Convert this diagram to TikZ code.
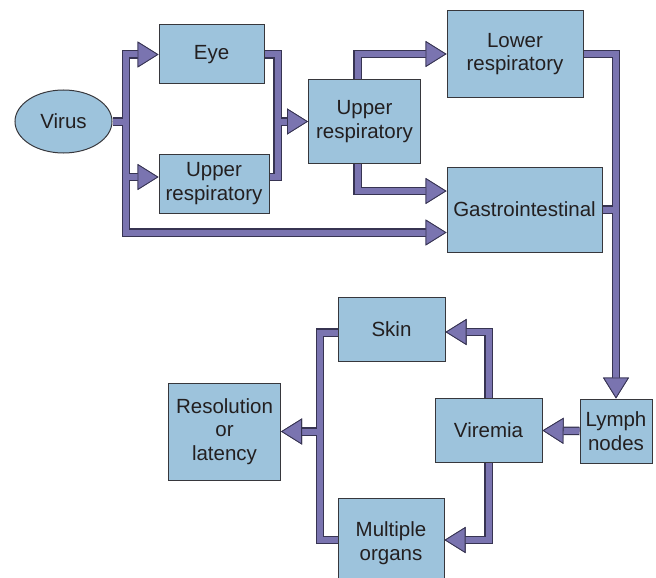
\documentclass[tikz,border=0pt]{standalone}
\usepackage{fontspec}
\setsansfont{Liberation Sans}
\usetikzlibrary{
    positioning,
    shapes.geometric,
    arrows.meta,
    backgrounds
}
\definecolor{boxfill}{RGB}{157, 195, 220}
\definecolor{boxedge}{RGB}{55, 55, 60}
\definecolor{pipefill}{RGB}{122, 116, 176}
\definecolor{pipeedge}{RGB}{55, 52, 82}
\definecolor{labeltext}{RGB}{35, 31, 32}

% a pipe: dark outline on the background layer, purple core on top
\newcommand{\pipe}[2][]{%
    \begin{pgfonlayer}{background}\draw[pipeback, #1] #2;\end{pgfonlayer}
    \draw[pipefront, #1] #2;}

\begin{document}
\begin{tikzpicture}[
    x=1pt, y=-1pt,
    stage/.style={rectangle, draw=boxedge, fill=boxfill, line width=1pt,
                  inner sep=0pt, align=center, text=labeltext,
                  font=\sffamily\fontsize{20.5}{23.5}\selectfont},
    pipeback/.style={draw=pipeedge, line width=8.5pt},
    pipefront/.style={draw=pipefill, line width=6pt},
    arrowhead/.style={-{Triangle[length=21pt, width=26pt, line width=0.8pt,
                      color=pipeedge, fill=pipefill]}}
]
\useasboundingbox (0,0) rectangle (656,578);

% ============================================
% ENTRY
% ============================================
\node[stage, ellipse, minimum width=97pt, minimum height=63pt] (virus) at (63.5,121.5) {Virus};
\node[stage, minimum width=105pt, minimum height=59pt] (eye) at (211.5,54.5) {Eye};
\node[stage, minimum width=110pt, minimum height=59pt] (urleft) at (214,183.5) {Upper\\respiratory};
\node[stage, minimum width=112pt, minimum height=83pt] (urmid) at (364.5,121.5) {Upper\\respiratory};
\node[stage, minimum width=136pt, minimum height=86pt] (lower) at (515,54) {Lower\\respiratory};
\node[stage, minimum width=155pt, minimum height=85pt] (gastro) at (524.5,209.5) {Gastrointestinal};

% ============================================
% SPREAD
% ============================================
\node[stage, minimum width=72pt, minimum height=64pt] (lymph) at (616,431) {Lymph\\nodes};
\node[stage, minimum width=107pt, minimum height=64pt] (viremia) at (488.5,430.5) {Viremia};
\node[stage, minimum width=107pt, minimum height=64pt] (skin) at (391.5,329.5) {Skin};
\node[stage, minimum width=106pt, minimum height=90pt] (organs) at (391,543) {Multiple\\organs};
\node[stage, minimum width=112pt, minimum height=97pt] (resol) at (224.5,431.5) {Resolution\\or\\latency};

% junctions
\coordinate (vsplit) at (126,121.5);
\coordinate (ujoin) at (277.5,121.5);
\coordinate (rjoin) at (320,431.5);

% ============================================
% PIPES
% ============================================
\pipe[arrowhead]{(virus.east) -- (vsplit) |- (eye.west)}
\pipe[arrowhead]{(vsplit) |- ([yshift=6.5pt]urleft.west)}
\pipe[arrowhead]{(vsplit) |- ([yshift=-23pt]gastro.west)}

\pipe{(eye.east) -| (ujoin)}
\pipe{([yshift=6.5pt]urleft.east) -| (ujoin)}
\pipe[arrowhead]{(ujoin) -- (urmid.west)}

\pipe[arrowhead]{([xshift=-7pt]urmid.north) |- (lower.west)}
\pipe[arrowhead]{([xshift=-7pt]urmid.south) |- ([yshift=18.5pt]gastro.west)}

\pipe[arrowhead]{(lower.east) -| (lymph.north)}
\pipe{(gastro.east) -- (gastro.east -| lymph.north)}

\pipe[arrowhead]{(lymph.west) -- (viremia.east)}
\pipe[arrowhead]{(viremia.north) |- ([yshift=-2.5pt]skin.east)}
\pipe[arrowhead]{(viremia.south) |- ([yshift=3pt]organs.east)}

\pipe{([yshift=-3pt]skin.west) -| (rjoin)}
\pipe{([yshift=3pt]organs.west) -| (rjoin)}
\pipe[arrowhead]{(rjoin) -- (resol.east)}

\end{tikzpicture}
\end{document}
